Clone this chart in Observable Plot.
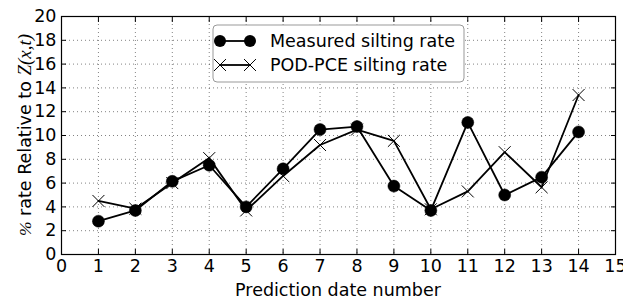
<!DOCTYPE html>
<html><head><meta charset="utf-8">
<script src="https://cdn.jsdelivr.net/npm/d3@7"></script>
<script src="https://cdn.jsdelivr.net/npm/@observablehq/plot@0.6"></script>
<style>body{margin:0;background:#fff} svg{display:block}</style>
</head><body><div id="chart"></div>
<script>
const dates = [1,2,3,4,5,6,7,8,9,10,11,12,13,14];
const measured = [2.8,3.7,6.15,7.5,4.0,7.2,10.5,10.75,5.75,3.7,11.1,5.0,6.5,10.3];
const podpce = [4.5,3.85,6.0,8.1,3.7,6.6,9.2,10.5,9.55,3.8,5.3,8.6,5.65,13.4];
const xTicks = [0,1,2,3,4,5,6,7,8,9,10,11,12,13,14,15];
const yTicks = [0,2,4,6,8,10,12,14,16,18,20];
const seriesNames = ["Measured silting rate","POD-PCE silting rate"];
const xLabel = "Prediction date number";

const mData = dates.map((d,i)=>({x:d,y:measured[i]}));
const pData = dates.map((d,i)=>({x:d,y:podpce[i]}));
const grid = {stroke:"#000", strokeOpacity:0.55, strokeDasharray:"1,3", strokeWidth:0.9};

const chart = Plot.plot({
  width:623, height:301, marginLeft:61, marginRight:8, marginTop:16, marginBottom:47,
  style:{fontFamily:"DejaVu Sans", fontSize:"17.5px", color:"#000", background:"#fff"},
  x:{domain:[0,15]}, y:{domain:[0,20]},
  marks:[
    Plot.gridX(xTicks, grid),
    Plot.gridY(yTicks, grid),
    Plot.axisX(xTicks,{tickSize:0, tickPadding:5, label:null, fontSize:17.5}),
    Plot.axisX(xTicks,{tickSize:-5, tickFormat:()=>"", label:null}),
    Plot.axisX(xTicks,{anchor:"top", tickSize:-5, tickFormat:()=>"", label:null}),
    Plot.axisY(yTicks,{tickSize:0, tickPadding:5, label:null, fontSize:17.5}),
    Plot.axisY(yTicks,{tickSize:-5, tickFormat:()=>"", label:null}),
    Plot.axisY(yTicks,{anchor:"right", tickSize:-5, tickFormat:()=>"", label:null}),
    Plot.line(mData,{x:"x", y:"y", stroke:"#000", strokeWidth:1.8}),
    Plot.line(pData,{x:"x", y:"y", stroke:"#000", strokeWidth:1.8}),
    Plot.dot(mData,{x:"x", y:"y", r:6, fill:"#000", stroke:"#000", strokeWidth:0.5}),
    Plot.dot(pData,{x:"x", y:"y", symbol:"times", r:5.5, stroke:"#000", strokeWidth:1}),
    Plot.frame({stroke:"#000", strokeWidth:1.2})
  ]
});
document.getElementById("chart").appendChild(chart);
const svg = d3.select(chart);
svg.append("text").attr("x",338).attr("y",296).attr("text-anchor","middle")
  .attr("font-family","DejaVu Sans").attr("font-size",17.5).attr("fill","#000").text(xLabel);
const yl = svg.append("text").attr("transform","translate(31,135) rotate(-90)").attr("text-anchor","middle")
  .attr("font-family","DejaVu Sans").attr("font-size",17.5).attr("fill","#000");
yl.append("tspan").attr("font-family","Liberation Serif").attr("font-style","italic").text("%");
yl.append("tspan").text(" rate Relative to ");
yl.append("tspan").attr("font-family","Liberation Serif").attr("font-style","italic").attr("font-size",19).text("Z(x,t)");

const lg = svg.append("g");
lg.append("rect").attr("x",213).attr("y",25).attr("width",251).attr("height",57).attr("rx",4)
  .attr("fill","#fff").attr("stroke","#999").attr("stroke-width",1);
const rows = [41,65];
lg.append("line").attr("x1",220).attr("x2",250).attr("y1",rows[0]).attr("y2",rows[0]).attr("stroke","#000").attr("stroke-width",1.8);
[220,250].forEach(cx=>lg.append("circle").attr("cx",cx).attr("cy",rows[0]).attr("r",6).attr("fill","#000"));
lg.append("line").attr("x1",220).attr("x2",250).attr("y1",rows[1]).attr("y2",rows[1]).attr("stroke","#000").attr("stroke-width",1.8);
[220,250].forEach(cx=>lg.append("path").attr("d",d3.symbol(d3.symbolTimes, 5.5*5.5*Math.PI)()).attr("transform",`translate(${cx},${rows[1]})`).attr("fill","none").attr("stroke","#000").attr("stroke-width",1));
seriesNames.forEach((n,i)=>lg.append("text").attr("x",270).attr("y",rows[i]+6).attr("text-anchor","start").attr("font-family","DejaVu Sans").attr("font-size",17.5).attr("fill","#000").text(n));
</script></body></html>
